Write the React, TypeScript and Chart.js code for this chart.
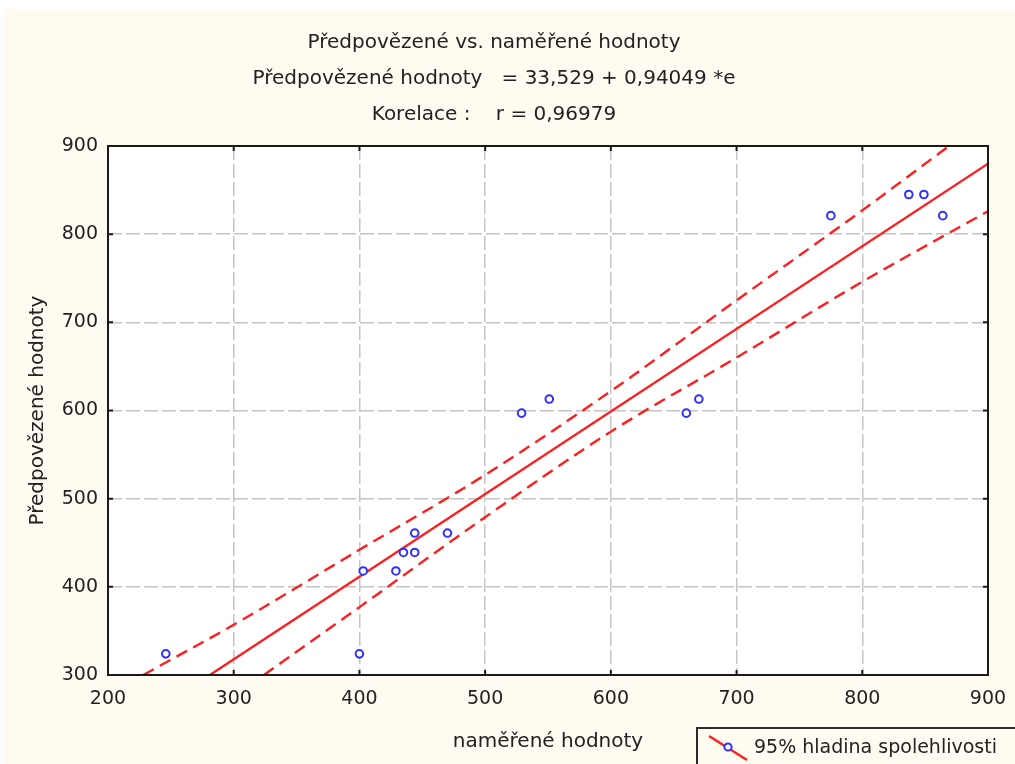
import React, { useEffect, useRef } from 'react';
import { Chart, registerables } from 'chart.js';

Chart.register(...registerables);

// ---- data ----
const titleLines = [
  'Předpovězené vs. naměřené hodnoty',
  'Předpovězené hodnoty   = 33,529 + 0,94049 *e',
  'Korelace :    r = 0,96979',
];
const xAxisTitle = 'naměřené hodnoty';
const yAxisTitle = 'Předpovězené hodnoty';
const legendLabel = '95% hladina spolehlivosti';

const measured = [246, 400, 403, 429, 435, 444, 444, 470, 529, 551, 660, 670, 775, 837, 849, 864];
const predicted = [324, 324, 418, 418, 439, 439, 461, 461, 597, 613, 597, 613, 821, 845, 845, 821];

const fitX = [281, 900];
const fitY = [300, 880];

const upperX = [228, 300, 400, 500, 600, 700, 800, 869];
const upperY = [300, 357, 442, 527, 622, 725, 827, 900];

const lowerX = [324, 400, 500, 600, 700, 800, 900];
const lowerY = [300, 377, 479, 576, 660, 746, 826];

const xTicks = [200, 300, 400, 500, 600, 700, 800, 900];
const yTicks = [300, 400, 500, 600, 700, 800, 900];

// ---- styles ----
const CREAM = '#fffbf0';
const RED = '#ff1e1e';
const BLUE = '#2f2fff';
const TEXT = '#222222';
const FONT = '"DejaVu Sans", "Liberation Sans", sans-serif';

const zip = (xs: number[], ys: number[]) => xs.map((x, i) => ({ x, y: ys[i] }));

const decor = {
  id: 'decor',
  beforeDraw(chart: any) {
    const { ctx, width, height, chartArea: a } = chart;
    ctx.save();
    ctx.fillStyle = '#ffffff';
    ctx.fillRect(0, 0, width, height);
    ctx.fillStyle = CREAM;
    ctx.fillRect(3, 9, width - 3, height - 9);
    ctx.fillStyle = '#ffffff';
    ctx.fillRect(a.left, a.top, a.right - a.left, a.bottom - a.top);
    ctx.restore();
  },
  afterDraw(chart: any) {
    const { ctx, chartArea: a } = chart;
    const xs = chart.scales.x;
    const ys = chart.scales.y;
    ctx.save();
    // frame
    ctx.strokeStyle = '#1a1a1a';
    ctx.lineWidth = 2;
    ctx.strokeRect(a.left, a.top, a.right - a.left, a.bottom - a.top);
    // inward ticks
    const tl = 5;
    ctx.beginPath();
    xTicks.forEach((v) => {
      const px = xs.getPixelForValue(v);
      ctx.moveTo(px, a.bottom);
      ctx.lineTo(px, a.bottom - tl);
      ctx.moveTo(px, a.top);
      ctx.lineTo(px, a.top + tl);
    });
    yTicks.forEach((v) => {
      const py = ys.getPixelForValue(v);
      ctx.moveTo(a.left, py);
      ctx.lineTo(a.left + tl, py);
      ctx.moveTo(a.right, py);
      ctx.lineTo(a.right - tl, py);
    });
    ctx.stroke();

    // legend box
    ctx.fillStyle = CREAM;
    ctx.fillRect(697, 728, 330, 50);
    ctx.strokeStyle = '#2a2a2a';
    ctx.lineWidth = 2;
    ctx.strokeRect(697, 728, 330, 50);
    ctx.strokeStyle = RED;
    ctx.lineWidth = 2.4;
    ctx.beginPath();
    ctx.moveTo(709, 736);
    ctx.lineTo(747, 760);
    ctx.stroke();
    ctx.strokeStyle = BLUE;
    ctx.lineWidth = 2;
    ctx.fillStyle = '#ffffff';
    ctx.beginPath();
    ctx.arc(728, 747, 3.6, 0, Math.PI * 2);
    ctx.fill();
    ctx.stroke();
    ctx.fillStyle = TEXT;
    ctx.font = `19px ${FONT}`;
    ctx.textBaseline = 'middle';
    ctx.textAlign = 'left';
    ctx.fillText(legendLabel, 754, 748);
    ctx.restore();
  },
};

export default function App() {
  const ref = useRef<HTMLCanvasElement | null>(null);

  useEffect(() => {
    if (!ref.current) return;
    const lineCommon = {
      showLine: true,
      borderColor: RED,
      borderWidth: 2.4,
      pointRadius: 0,
      pointHoverRadius: 0,
      fill: false,
      order: 2,
    };
    const chart = new Chart(ref.current, {
      type: 'scatter',
      data: {
        datasets: [
          {
            label: 'points',
            data: zip(measured, predicted),
            pointStyle: 'circle',
            pointRadius: 3.8,
            pointBorderWidth: 2,
            pointBorderColor: BLUE,
            pointBackgroundColor: '#ffffff',
            showLine: false,
            order: 1,
          } as any,
          { label: 'fit', data: zip(fitX, fitY), ...lineCommon } as any,
          {
            label: 'upper',
            data: zip(upperX, upperY),
            ...lineCommon,
            borderDash: [12, 7],
            cubicInterpolationMode: 'monotone',
          } as any,
          {
            label: 'lower',
            data: zip(lowerX, lowerY),
            ...lineCommon,
            borderDash: [12, 7],
            cubicInterpolationMode: 'monotone',
          } as any,
        ],
      },
      options: {
        responsive: false,
        animation: false,
        devicePixelRatio: 1,
        layout: { padding: { left: 0, right: 27, top: 0, bottom: 0 } },
        plugins: {
          legend: { display: false },
          tooltip: { enabled: false },
          title: {
            display: true,
            text: titleLines,
            color: TEXT,
            font: { family: FONT, size: 20, weight: 'normal', lineHeight: 1.8 },
            padding: { top: 25, bottom: 13 },
          },
        },
        scales: {
          x: {
            type: 'linear',
            min: 200,
            max: 900,
            afterFit: (s: any) => {
              s.height = 89;
              s.paddingLeft = 0;
              s.paddingRight = 0;
            },
            ticks: {
              stepSize: 100,
              color: TEXT,
              padding: 13,
              font: { family: FONT, size: 19 },
            },
            grid: {
              color: '#c4c4c4',
              lineWidth: 1.5,
              drawTicks: false,
            },
            border: { display: false, dash: [14, 4] },
            title: {
              display: true,
              text: xAxisTitle,
              color: TEXT,
              font: { family: FONT, size: 20 },
              padding: { top: 0, bottom: 10 },
            },
          },
          y: {
            type: 'linear',
            min: 300,
            max: 900,
            afterFit: (s: any) => {
              s.width = 108;
              s.paddingTop = 0;
              s.paddingBottom = 0;
            },
            ticks: {
              stepSize: 100,
              color: TEXT,
              padding: 10,
              font: { family: FONT, size: 19 },
            },
            grid: {
              color: '#c4c4c4',
              lineWidth: 1.5,
              drawTicks: false,
            },
            border: { display: false, dash: [14, 4] },
            title: {
              display: true,
              text: yAxisTitle,
              color: TEXT,
              font: { family: FONT, size: 20 },
              padding: { top: 26, bottom: 0 },
            },
          },
        },
      } as any,
      plugins: [decor],
    });
    return () => chart.destroy();
  }, []);

  return (
    <div style={{ position: 'absolute', left: 0, top: 0, width: 1015, height: 764 }}>
      <canvas ref={ref} width={1015} height={764} />
    </div>
  );
}
